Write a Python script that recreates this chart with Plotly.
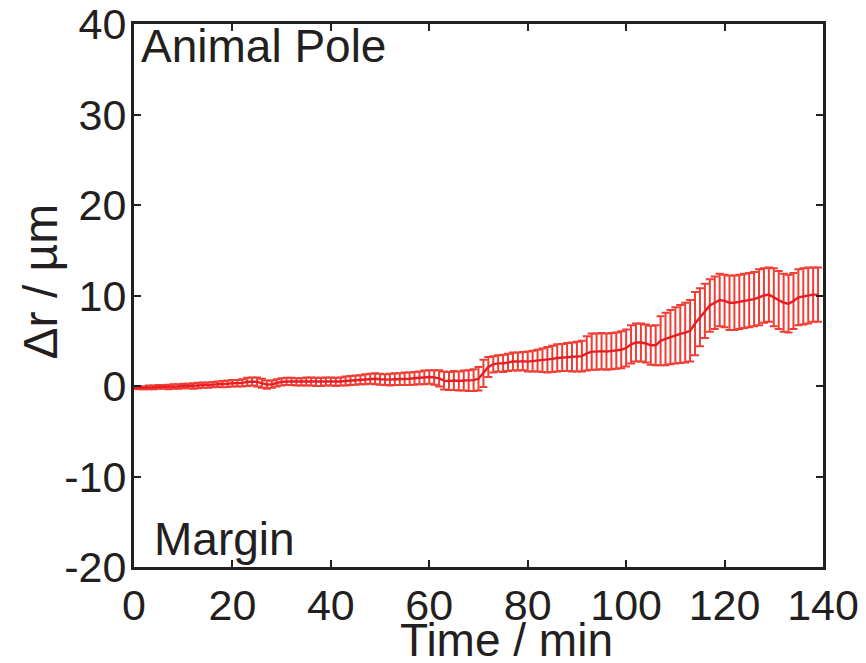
import plotly.graph_objects as go

time_min = list(range(0, 140))

mean_dr = [
    -0.2, -0.2, -0.2, -0.15, -0.15, -0.1, -0.1, -0.1, -0.05, -0.05,
    0.0, 0.0, 0.0, 0.05, 0.1, 0.1, 0.15, 0.2, 0.2, 0.25,
    0.3, 0.3, 0.35, 0.45, 0.5, 0.45, 0.3, 0.15, 0.2, 0.35,
    0.45, 0.5, 0.5, 0.45, 0.45, 0.5, 0.5, 0.45, 0.45, 0.5,
    0.5, 0.45, 0.5, 0.55, 0.6, 0.65, 0.7, 0.75, 0.8, 0.8,
    0.75, 0.7, 0.7, 0.75, 0.75, 0.8, 0.8, 0.85, 0.9, 0.95,
    1.0, 0.95, 0.85, 0.6, 0.55, 0.6, 0.55, 0.6, 0.6, 0.65,
    0.8, 1.4, 2.1, 2.4, 2.5, 2.5, 2.6, 2.7, 2.7, 2.75,
    2.7, 2.75, 2.8, 2.85, 2.9, 3.0, 3.1, 3.15, 3.2, 3.2,
    3.25, 3.3, 3.6, 3.8, 3.8, 3.85, 3.8, 3.85, 3.9, 4.0,
    4.2, 4.6, 4.8, 4.8, 4.7, 4.5, 4.5, 5.0, 5.2, 5.4,
    5.6, 5.75, 5.9, 6.1, 6.9, 7.6, 8.3, 8.9, 9.2, 9.5,
    9.4, 9.2, 9.2, 9.3, 9.4, 9.5, 9.6, 9.8, 10.0, 10.1,
    9.8, 9.5, 9.2, 9.1, 9.4, 9.8, 9.9, 10.0, 10.1, 10.1,
]

err_dr = [
    0.1, 0.15, 0.15, 0.2, 0.2, 0.2, 0.2, 0.25, 0.25, 0.25,
    0.25, 0.25, 0.3, 0.3, 0.3, 0.3, 0.3, 0.3, 0.35, 0.35,
    0.35, 0.35, 0.4, 0.45, 0.45, 0.5, 0.5, 0.45, 0.4, 0.4,
    0.4, 0.4, 0.4, 0.4, 0.4, 0.45, 0.45, 0.45, 0.45, 0.45,
    0.45, 0.45, 0.45, 0.5, 0.5, 0.5, 0.5, 0.55, 0.55, 0.6,
    0.6, 0.6, 0.65, 0.65, 0.65, 0.7, 0.7, 0.7, 0.7, 0.75,
    0.75, 0.8, 0.9, 1.0, 1.0, 1.05, 1.05, 1.1, 1.15, 1.2,
    1.3, 1.5, 1.1, 0.9, 0.9, 0.95, 0.95, 1.0, 1.0, 1.0,
    1.1, 1.15, 1.2, 1.3, 1.4, 1.45, 1.5, 1.5, 1.55, 1.6,
    1.65, 1.7, 1.9, 2.0, 2.0, 2.0, 2.0, 2.0, 2.0, 2.05,
    2.05, 2.1, 2.1, 2.1, 2.1, 2.15, 2.2, 2.7, 2.9, 3.0,
    3.1, 3.2, 3.3, 3.4, 3.5, 3.2, 3.0, 2.9, 2.9, 2.9,
    2.9, 3.0, 3.0, 3.0, 3.0, 3.0, 3.0, 3.1, 3.0, 3.0,
    3.2, 3.2, 3.2, 3.2, 3.1, 3.1, 3.1, 3.1, 3.0, 3.0,
]

x_ticks = [0, 20, 40, 60, 80, 100, 120, 140]
y_ticks = [-20, -10, 0, 10, 20, 30, 40]
y_tick_text = ["-20", "-10", "0", "10", "20", "30", "40"]

FONT = "Liberation Sans, Arial, sans-serif"
AX = "#231f20"
TICK_SIZE = 43
TEXT_SIZE = 46

fig = go.Figure()
fig.add_trace(go.Scatter(
    x=time_min, y=mean_dr, mode="lines",
    line=dict(color="rgb(232,28,36)", width=2.4),
    error_y=dict(type="data", array=err_dr, visible=True,
                 color="rgb(240,62,52)", thickness=2, width=4),
    showlegend=False,
))

axis_common = dict(ticks="inside", ticklen=7, tickwidth=1.5, tickcolor=AX,
                   showline=True, linecolor=AX, linewidth=3, mirror="ticks",
                   showgrid=False, zeroline=False, automargin=False,
                   ticklabeloverflow="allow",
                   tickfont=dict(size=TICK_SIZE, family=FONT, color=AX))

# page body has an 8px margin, margins below compensate for it
fig.update_layout(
    width=866, height=663,
    margin=dict(l=126, r=51, t=16, b=104),
    paper_bgcolor="white", plot_bgcolor="white",
    font=dict(family=FONT, size=TEXT_SIZE, color=AX),
    xaxis=dict(range=[0, 140], tickvals=x_ticks, ticklabelstandoff=-2,
               **axis_common),
    yaxis=dict(range=[-20, 40], tickvals=y_ticks, ticktext=y_tick_text,
               ticklabelstandoff=-4, **axis_common),
    annotations=[
        dict(text="Animal Pole", x=0, y=1.0, xref="paper", yref="paper",
             xanchor="left", yanchor="top", showarrow=False, xshift=5,
             yshift=6, font=dict(size=TEXT_SIZE, family=FONT, color=AX)),
        dict(text="Margin", x=0, y=0.0, xref="paper", yref="paper",
             xanchor="left", yanchor="bottom", showarrow=False, xshift=18,
             yshift=0, font=dict(size=TEXT_SIZE, family=FONT, color=AX)),
        dict(text="Time / min", x=0.5, y=0.0, xref="paper", yref="paper",
             xanchor="center", yanchor="middle", showarrow=False,
             xshift=28, yshift=-73,
             font=dict(size=TEXT_SIZE, family=FONT, color=AX)),
        dict(text="\u0394r / \u00b5m", x=0.0, y=0.5, xref="paper",
             yref="paper", xanchor="center", yanchor="middle",
             showarrow=False, textangle=-90, xshift=-94, yshift=14,
             font=dict(size=48, family=FONT, color=AX)),
    ],
)

fig.write_html("out.html")
